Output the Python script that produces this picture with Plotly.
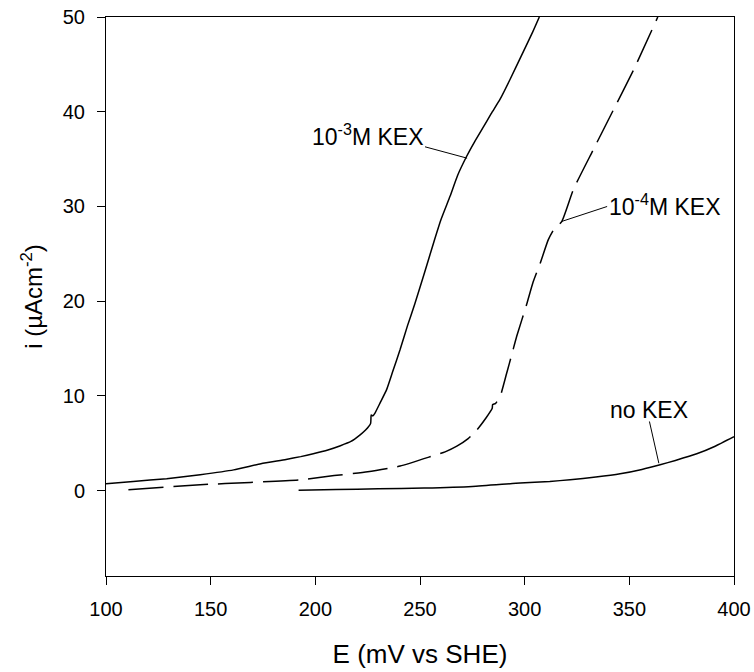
import plotly.graph_objects as go

# 10^-3 M KEX (solid)
e_kex3 = [100, 113, 129, 145, 161, 174, 186, 193, 199, 206, 212, 217, 221.4, 224, 226.4, 226.7,
          227.5, 228.5, 231, 234.1, 237, 240.5, 244, 247.5, 252, 256.4, 260, 264.4, 268, 272.3,
          276, 280.3, 284, 288.2, 293, 298.4, 303.8, 307]
i_kex3 = [0.74, 0.98, 1.27, 1.69, 2.2, 2.85, 3.3, 3.6, 3.9, 4.3, 4.75, 5.2, 5.9, 6.4, 7.1, 8.0,
          7.9, 8.2, 9.3, 10.7, 12.6, 14.9, 17.4, 19.7, 22.9, 26.1, 28.6, 31.1, 33.3, 35.3,
          36.8, 38.4, 39.8, 41.3, 43.4, 45.9, 48.4, 50]

# 10^-4 M KEX (dashed)
e_kex4 = [110.7, 145, 169, 193, 209, 225, 240.5, 256.4, 262, 267.6, 273, 276.8, 281.6, 284.5,
          284.7, 286, 288.2, 291.4, 294, 296.2, 301, 304, 307.4, 311.3, 314, 317.7, 323.3,
          332.8, 342.4, 352.0, 363.6]
i_kex4 = [0.1, 0.63, 0.88, 1.16, 1.6, 2.0, 2.6, 3.7, 4.1, 4.7, 5.5, 6.3, 7.7, 8.7,
          9.1, 9.2, 9.9, 12.4, 14.5, 16.3, 19.7, 22.0, 24.0, 26.5, 27.6, 28.4, 31.8,
          36.0, 40.2, 44.4, 50]

# no KEX (solid)
e_none = [192, 210, 230, 252, 275, 297.8, 312, 321.7, 334, 345.6, 356, 364.7, 372, 382.2, 391, 400]
i_none = [0.05, 0.12, 0.2, 0.28, 0.45, 0.81, 0.98, 1.16, 1.45, 1.79, 2.25, 2.74, 3.2, 3.9, 4.7, 5.7]

x_ticks = [100, 150, 200, 250, 300, 350, 400]
y_ticks = [0, 10, 20, 30, 40, 50]

FONT = "Liberation Sans, Arial, sans-serif"
line_style = dict(color="black", width=1.5, shape="spline", smoothing=0.5)

fig = go.Figure()
fig.add_trace(go.Scatter(x=e_kex3, y=i_kex3, mode="lines", line=line_style, showlegend=False))
fig.add_trace(go.Scatter(x=e_kex4, y=i_kex4, mode="lines",
                         line=dict(color="black", width=1.5, dash="35px,10px", shape="spline", smoothing=0.5),
                         showlegend=False))
fig.add_trace(go.Scatter(x=e_none, y=i_none, mode="lines", line=line_style, showlegend=False))

# labels with pointer lines
labels = [
    dict(text="10<sup>-3</sup>M KEX", x=224.7, y=37.55, xanchor="center", p=(252.4, 36.3, 272.5, 35.1)),
    dict(text="10<sup>-4</sup>M KEX", x=339.4, y=30.17, xanchor="left", p=(339.4, 30.0, 317.4, 28.4)),
    dict(text="no KEX", x=359.4, y=8.47, xanchor="center", p=(359.6, 7.31, 364.1, 2.9)),
]
for lb in labels:
    fig.add_annotation(x=lb["x"], y=lb["y"], text=lb["text"], showarrow=False,
                       xanchor=lb["xanchor"], yanchor="middle",
                       font=dict(family=FONT, size=23, color="black"))
    x0, y0, x1, y1 = lb["p"]
    fig.add_shape(type="line", x0=x0, y0=y0, x1=x1, y1=y1, xref="x", yref="y",
                  line=dict(color="black", width=1))

axis_common = dict(showgrid=False, zeroline=False, showline=True, linecolor="black", linewidth=1,
                   mirror=True, ticks="outside", ticklen=8, tickcolor="black", tickwidth=1,
                   ticklabeloverflow="allow",
                   tickfont=dict(family=FONT, size=20, color="black"))

fig.update_xaxes(range=[100, 400], tickvals=x_ticks, ticktext=[str(v) for v in x_ticks],
                 ticklabelstandoff=7,
                 title=dict(text="E (mV vs SHE)", font=dict(family=FONT, size=26, color="black"),
                            standoff=25),
                 **axis_common)
fig.update_yaxes(range=[-9, 50], tickvals=y_ticks, ticktext=[str(v) for v in y_ticks],
                 ticklabelstandoff=8,
                 title=dict(text="i (µAcm<sup>-2</sup>)", font=dict(family=FONT, size=24, color="black"),
                            standoff=13),
                 **axis_common)

fig.update_layout(width=754, height=672, margin=dict(l=106, r=20, t=17, b=96, autoexpand=False),
                  paper_bgcolor="white", plot_bgcolor="white",
                  font=dict(family=FONT, color="black"))

fig.write_html("out.html", config={"displayModeBar": False},
               post_script="document.body.style.margin='0';")
